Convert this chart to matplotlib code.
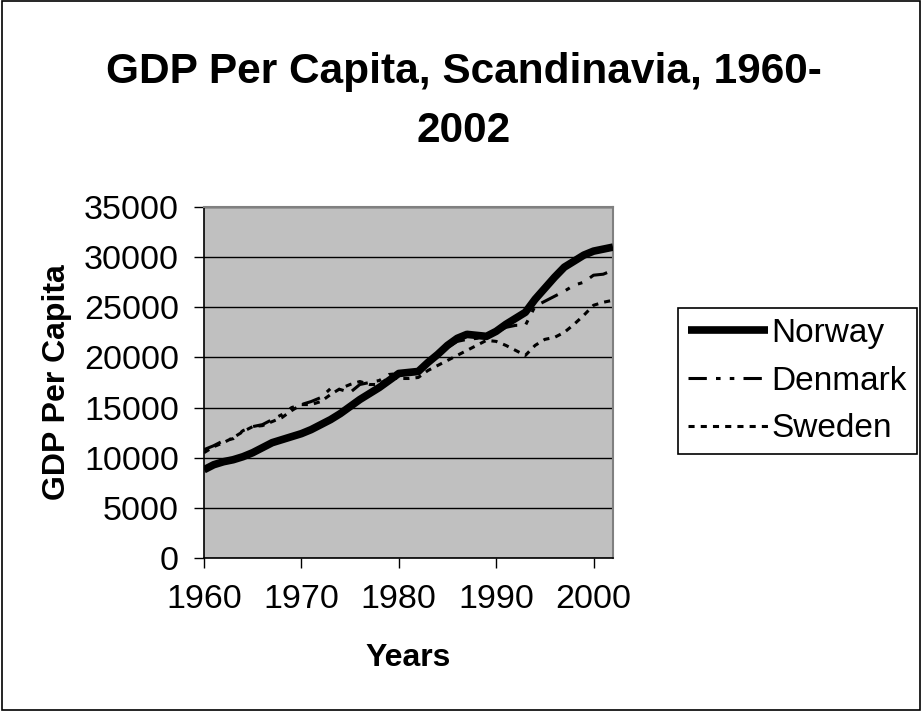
import matplotlib
matplotlib.use("Agg")
import matplotlib.pyplot as plt
from matplotlib.patches import Rectangle

years = list(range(1960, 2003))
norway = [8800, 9300, 9600, 9800, 10100, 10500, 11000, 11500, 11800, 12100,
          12400, 12800, 13300, 13800, 14400, 15100, 15800, 16400, 17000, 17700,
          18400, 18500, 18600, 19500, 20300, 21200, 21900, 22300, 22200, 22100,
          22600, 23300, 23900, 24500, 25800, 26900, 28000, 29000, 29600, 30200,
          30600, 30800, 31000]
denmark = [10800, 11200, 11700, 11900, 12700, 13100, 13300, 13800, 14300, 15000,
           15300, 15600, 16000, 16900, 16800, 16500, 17300, 17500, 17700, 18300,
           18400, 18300, 18600, 19400, 20200, 21000, 21600, 21800, 21900, 22100,
           22500, 23000, 23200, 23200, 25100, 25600, 26100, 26600, 27200, 27500,
           28200, 28300, 28700]
sweden = [10500, 11100, 11500, 12000, 12600, 13100, 13200, 13600, 14000, 14700,
          15300, 15300, 15600, 16300, 16900, 17300, 17600, 17300, 17300, 18000,
          17900, 17900, 18000, 18700, 19200, 19700, 20200, 20700, 21200, 21700,
          21600, 21200, 20700, 20200, 21200, 21800, 22000, 22500, 23300, 24200,
          25200, 25500, 25700]
series_names = ["Norway", "Denmark", "Sweden"]
x_ticks = [1960, 1970, 1980, 1990, 2000]
y_ticks = [0, 5000, 10000, 15000, 20000, 25000, 30000, 35000]

plt.rcParams['font.family'] = ['Liberation Sans', 'DejaVu Sans']

fig = plt.figure(figsize=(9.22, 7.11), dpi=100)
fig.patches.append(Rectangle((0.002, 0.002), 0.996, 0.996, transform=fig.transFigure,
                             fill=False, edgecolor='black', linewidth=1.2))

ax = fig.add_axes([204/922, 1-558/711, 409/922, 351/711])
ax.set_facecolor('#C0C0C0')

ax.plot(years, norway, color='black', linewidth=5.5, solid_capstyle='butt', label=series_names[0], zorder=3)
ax.plot(years, denmark, color='black', linewidth=2.2, linestyle=(0, (6, 3, 1.5, 3, 1.5, 3)), label=series_names[1], zorder=4)
ax.plot(years, sweden, color='black', linewidth=2.2, linestyle=(0, (2, 2)), label=series_names[2], zorder=4)

ax.set_xlim(1960, 2002)
ax.set_ylim(0, 35000)
ax.set_xticks(x_ticks)
ax.set_yticks(y_ticks)
ax.set_xticklabels([str(t) for t in x_ticks])
ax.set_yticklabels([str(t) for t in y_ticks])
ax.yaxis.grid(True, color='black', linewidth=1.0)
ax.set_axisbelow(True)
ax.tick_params(axis='both', direction='out', labelsize=24.5, length=7, width=1.0, color='black')
ax.tick_params(axis='y', pad=11)
ax.tick_params(axis='x', pad=12)

for s in ['top', 'right']:
    ax.spines[s].set_color('#808080')
    ax.spines[s].set_linewidth(1.5)
for s in ['left', 'bottom']:
    ax.spines[s].set_color('black')
    ax.spines[s].set_linewidth(1.2)

ax.set_ylabel('GDP Per Capita', fontsize=23, fontweight='bold', labelpad=9)
ax.set_xlabel('Years', fontsize=23, fontweight='bold', labelpad=20)

fig.text(0.503, 1-52/711, 'GDP Per Capita, Scandinavia, 1960-\n2002', ha='center', va='top',
         fontsize=30.5, fontweight='bold', linespacing=1.6)

leg = fig.legend(loc='upper left', bbox_to_anchor=(678/922, 1-308/711), fontsize=24,
                 frameon=True, fancybox=False, edgecolor='black', framealpha=1,
                 handlelength=2.4, handletextpad=0.1, borderpad=0.3, labelspacing=0.5,
                 borderaxespad=0)
leg.get_frame().set_linewidth(1.2)

fig.savefig('out.png', dpi=100)
